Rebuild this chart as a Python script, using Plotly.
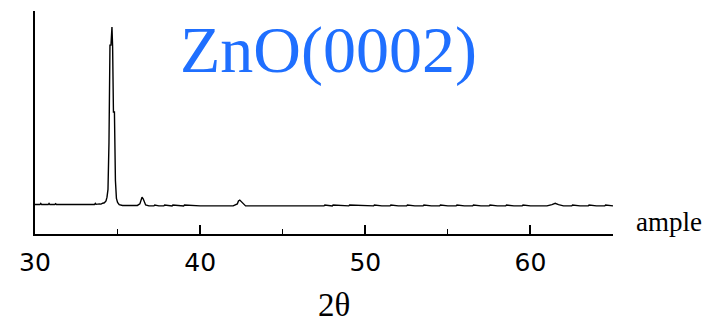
import plotly.graph_objects as go

# XRD scan (2-theta, intensity in arbitrary units)
two_theta = [30.0, 30.3, 30.35, 30.4, 30.8, 30.85, 30.9, 31.2, 31.25, 31.3, 32.0, 33.0,
             33.6, 33.65, 33.7, 33.9, 34.0, 34.1, 34.2, 34.3, 34.36, 34.42, 34.48,
             34.54, 34.60, 34.66, 34.70, 34.75, 34.81, 34.87, 34.93, 35.0, 35.1, 35.3,
             35.8, 36.2, 36.35, 36.42, 36.48, 36.55, 36.62, 36.7, 36.9, 37.2, 37.25,
             37.5, 37.8, 37.85, 38.3, 38.35, 39.0, 39.05, 40.0, 41.0, 42.0, 42.25,
             42.32, 42.4, 42.48, 42.56, 42.65, 42.75, 43.0, 44.0, 45.0, 46.0, 47.0,
             47.5, 47.55, 48.0, 48.05, 49.0, 49.05, 50.0, 50.5, 50.55, 51.0, 51.5,
             51.55, 52.0, 52.5, 52.55, 53.0, 53.5, 53.55, 54.0, 54.5, 54.55, 55.0,
             55.5, 55.55, 56.0, 56.5, 56.55, 57.0, 57.5, 57.55, 58.0, 58.5, 58.55,
             59.0, 59.5, 59.55, 60.0, 60.5, 61.0, 61.3, 61.5, 61.7, 62.0, 62.5,
             62.55, 63.0, 63.5, 63.55, 64.0, 64.5, 64.55, 65.0]
intensity = [13.2, 13.2, 13.7, 13.2, 13.2, 13.7, 13.2, 13.2, 13.6, 13.2, 13.2, 13.2,
             13.2, 13.7, 13.3, 13.5, 13.4, 13.8, 14.0, 14.8, 16.5, 20.0, 41.0,
             84.7, 84.7, 92.8, 84.0, 54.7, 54.7, 24.0, 16.0, 14.2, 13.2, 12.8,
             12.8, 12.8, 13.5, 15.5, 16.5, 15.8, 14.2, 13.0, 12.6, 12.6, 13.0,
             12.6, 12.6, 13.0, 12.6, 13.0, 12.6, 13.0, 12.6, 12.6, 12.6, 13.5,
             14.8, 15.2, 14.6, 13.6, 12.9, 12.6, 12.6, 12.6, 12.6, 12.6, 12.6,
             12.6, 13.0, 12.6, 13.0, 12.6, 13.0, 12.6, 12.6, 13.0, 12.6, 12.6,
             13.0, 12.6, 12.6, 13.0, 12.6, 12.6, 13.0, 12.6, 12.6, 13.0, 12.6,
             12.6, 13.0, 12.6, 12.6, 13.0, 12.6, 12.6, 13.0, 12.6, 12.6, 13.0,
             12.6, 12.6, 13.0, 12.6, 12.6, 12.6, 13.2, 13.8, 13.2, 12.6, 12.6,
             13.0, 12.6, 12.6, 13.0, 12.6, 12.6, 13.0, 12.6]

x_ticks = [30, 40, 50, 60]
peak_label = "ZnO(0002)"
side_label = "ample"
x_title = "2θ"

L, R, T, B = 35, 93, 11, 91
W, H = 706, 325
PW, PH = W - L - R, H - T - B


def px(x):
    return (x - L) / PW


def py(y):
    return (H - B - y) / PH


fig = go.Figure()
fig.add_trace(go.Scatter(x=two_theta, y=intensity, mode="lines",
                         line=dict(color="black", width=1.4), hoverinfo="skip"))

fig.update_layout(
    width=W, height=H,
    margin=dict(l=L, r=R, t=T, b=B, autoexpand=False),
    paper_bgcolor="white", plot_bgcolor="white",
    showlegend=False,
    xaxis=dict(range=[30, 65], tickvals=x_ticks, ticktext=[str(v) for v in x_ticks],
               showgrid=False, zeroline=False, showline=True, linecolor="black",
               linewidth=1.5, ticks="inside", ticklen=9, tickwidth=1.5, tickcolor="black",
               tickfont=dict(family="DejaVu Sans", size=25, color="black"),
               minor=dict(ticks="inside", ticklen=5, tickwidth=1.3, tickcolor="black",
                          tickvals=[35, 45, 55, 65]),
               ticklabelstandoff=5, automargin=False),
    yaxis=dict(range=[0, 100], showgrid=False, zeroline=False, showline=True,
               linecolor="black", linewidth=1.5, ticks="", showticklabels=False,
               automargin=False),
    annotations=[
        dict(text=peak_label, x=px(328), y=py(50), xref="paper", yref="paper",
             xanchor="center", yanchor="middle", showarrow=False,
             font=dict(family="Liberation Serif", size=66, color="#1f6fff")),
        dict(text=side_label, x=px(634), y=py(222), xref="paper", yref="paper",
             xanchor="left", yanchor="middle", showarrow=False,
             font=dict(family="Liberation Serif", size=27, color="black")),
        dict(text=x_title, x=px(334), y=py(305), xref="paper", yref="paper",
             xanchor="center", yanchor="middle", showarrow=False,
             font=dict(family="Liberation Serif", size=33, color="black")),
    ],
)

fig.write_html("out.html", config={"displayModeBar": False},
               post_script="document.body.style.margin='0';")
